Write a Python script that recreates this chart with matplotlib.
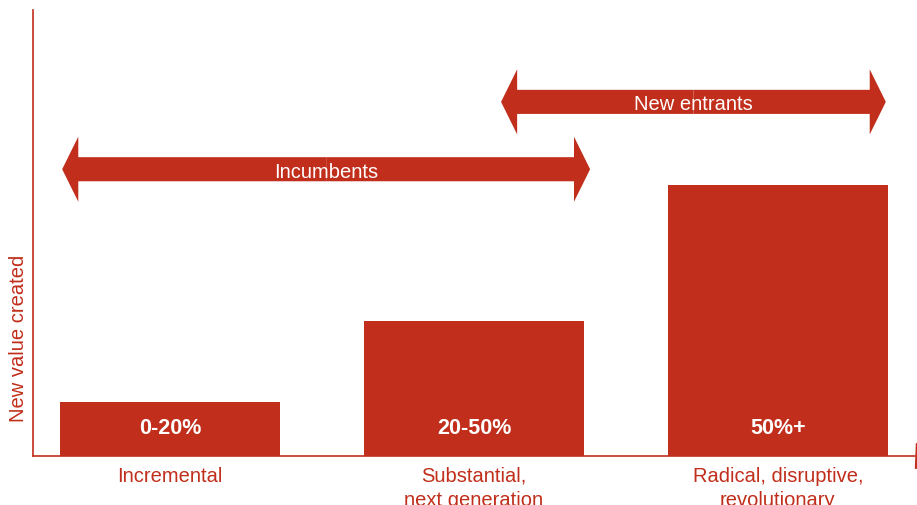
import matplotlib
matplotlib.use("Agg")
import matplotlib.pyplot as plt
from matplotlib.patches import FancyArrow

plt.rcParams['font.family'] = ['Liberation Sans', 'DejaVu Sans']

RED = '#C12E1B'

categories = ['Incremental', 'Substantial,\nnext generation', 'Radical, disruptive,\nrevolutionary']
values = [12.1, 30.3, 60.8]
bar_labels = ['0-20%', '20-50%', '50%+']

# span arrows: (label, x start, x end, y level)
spans = [('Incumbents', -0.355, 1.382, 64.3),
         ('New entrants', 1.089, 2.355, 79.4)]

fig = plt.figure(figsize=(9.17, 5.06), dpi=100)
ax = fig.add_axes([33 / 917, 49 / 506, 882 / 917, 446 / 506])

x = range(len(categories))
ax.bar(x, values, width=0.724, color=RED, zorder=2)
for xi, lab in zip(x, bar_labels):
    ax.text(xi, 6.5, lab, color='white', fontsize=15.5, fontweight='bold',
            ha='center', va='center', zorder=3)

for lab, x0, x1, y in spans:
    mid = (x0 + x1) / 2
    for end in (x0, x1):
        ax.add_patch(FancyArrow(mid, y, end - mid, 0, width=5.4, head_width=14.6,
                                head_length=0.053, length_includes_head=True,
                                color=RED, lw=0, zorder=2))
    ax.text(mid, y - 0.4, lab, color='white', fontsize=14.5, ha='center', va='center', zorder=3)

ax.set_xlim(-0.451, 2.451)
ax.set_ylim(0, 100)
ax.set_xticks(list(x))
ax.set_xticklabels(categories, color=RED, fontsize=14.5, linespacing=1.35)
ax.tick_params(axis='x', length=0, pad=7)
ax.set_yticks([])
for s in ['top', 'right']:
    ax.spines[s].set_visible(False)
for s in ['left', 'bottom']:
    ax.spines[s].set_color(RED)
    ax.spines[s].set_linewidth(1.2)
# axis arrowhead, mostly past the right edge of the picture
ax.plot([1.0153], [0], marker='>', color=RED, markersize=18, transform=ax.transAxes,
        clip_on=False)

ax.text(-0.016, 0.265, 'New value created', color=RED, fontsize=14.5, rotation=90,
        ha='center', va='center', transform=ax.transAxes)

fig.savefig('out.png', dpi=100)
